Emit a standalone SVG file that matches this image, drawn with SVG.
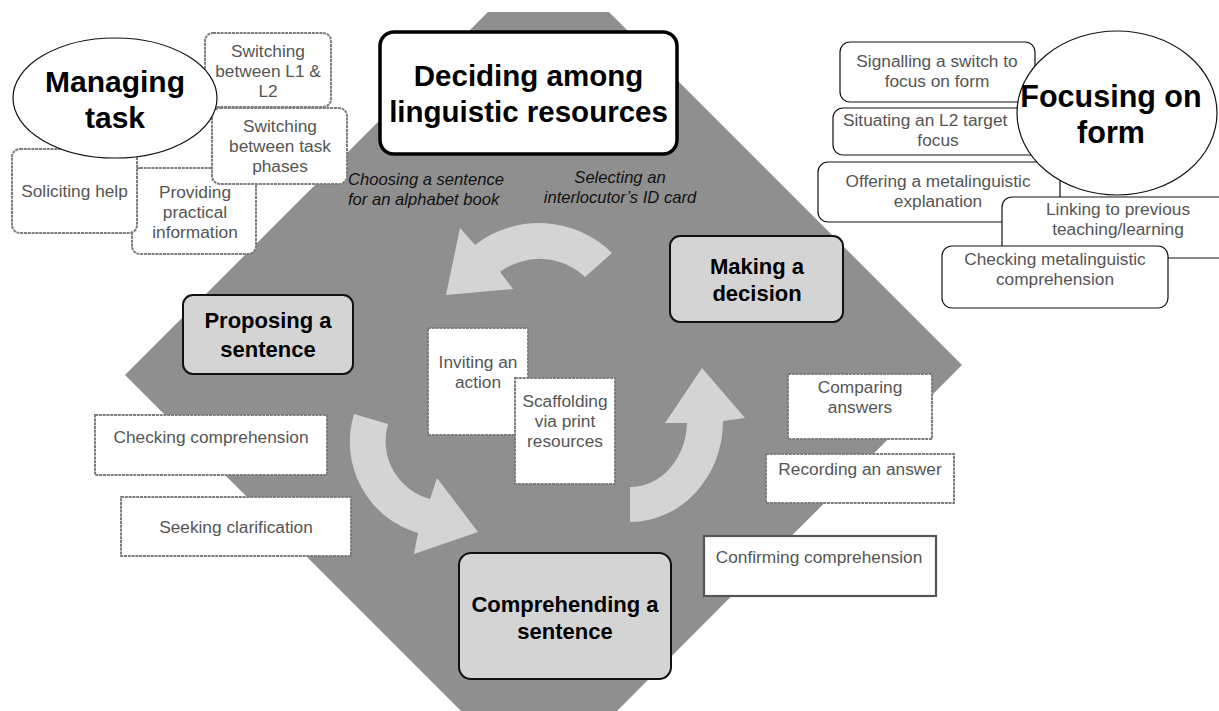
<svg xmlns="http://www.w3.org/2000/svg" width="1219" height="711" viewBox="0 0 1219 711">
<style>
.bg{fill:#ffffff}
.diamond{fill:#8f8f8f}
.arrow{fill:#d4d4d4}
.rough{fill:#ffffff;stroke:#7d7d7d;stroke-width:2;stroke-dasharray:3 0.8}
.smooth{fill:#ffffff;stroke:#111;stroke-width:1.2}
.solid{fill:#ffffff;stroke:#555;stroke-width:2.2}
.stage{fill:#d4d4d4;stroke:#111;stroke-width:2}
.main{fill:#ffffff;stroke:#000;stroke-width:3.5}
.oval{fill:#ffffff;stroke:#111;stroke-width:1.2}
.t{font-family:"Liberation Sans",Arial,sans-serif;font-size:17.3px;fill:#555;text-anchor:middle}
.b{font-family:"Liberation Sans",Arial,sans-serif;font-weight:bold;font-size:22px;fill:#000;text-anchor:middle}
.h{font-family:"Liberation Sans",Arial,sans-serif;font-weight:bold;font-size:30px;fill:#000;text-anchor:middle}
.i{font-family:"Liberation Sans",Arial,sans-serif;font-style:italic;font-size:16.6px;fill:#111}
</style>
<rect class="bg" x="0" y="0" width="1219" height="711"/>
<polygon class="diamond" points="488,12 609,12 962,365 617,711 461,711 125,375"/>

<g id="connectors">
  <path class="arrow" d="M612,253 A104,104 0 0 0 475,245 L460,228 L446,295 L513,289 L500,272 A66,66 0 0 1 585,277 Z"/>
  <path class="arrow" d="M354,414 L388,424 A60,60 0 0 0 430,499 L437,478 L478,532 L414,554 L418,533 A95,95 0 0 1 354,414 Z"/>
  <path class="arrow" d="M630,487 A57,66 0 0 0 687,423 L665,423 L702,368 L745,418 L723,421 A93,101 0 0 1 630,522 Z"/>
</g>

<!-- Managing task cluster -->
<g id="switching-l1-l2">
  <rect class="rough" x="205" y="33" width="126" height="74" rx="8"/>
  <text class="t" x="268" y="57">Switching</text>
  <text class="t" x="268" y="77">between L1 &amp;</text>
  <text class="t" x="268" y="97">L2</text>
</g>
<g id="providing-info">
  <rect class="rough" x="132" y="168" width="124" height="86" rx="8"/>
  <text class="t" x="195" y="198">Providing</text>
  <text class="t" x="195" y="218">practical</text>
  <text class="t" x="195" y="238">information</text>
</g>
<g id="soliciting-help">
  <rect class="rough" x="12" y="149" width="125" height="84" rx="8"/>
  <text class="t" x="74.5" y="197">Soliciting help</text>
</g>
<g id="switching-phases">
  <rect class="rough" x="212" y="108" width="135" height="76" rx="8"/>
  <text class="t" x="280" y="132">Switching</text>
  <text class="t" x="280" y="152">between task</text>
  <text class="t" x="280" y="172">phases</text>
</g>
<g id="managing-task">
  <ellipse class="oval" cx="115" cy="98" rx="102" ry="60"/>
  <text class="h" x="115" y="92">Managing</text>
  <text class="h" x="115" y="128">task</text>
</g>

<!-- Focusing on form cluster -->
<g id="signalling-switch">
  <rect class="smooth" x="840" y="42" width="195" height="60" rx="10"/>
  <text class="t" x="937" y="67">Signalling a switch to</text>
  <text class="t" x="937" y="87">focus on form</text>
</g>
<g id="situating-target">
  <rect class="smooth" x="833" y="108" width="207" height="47" rx="10"/>
  <text class="t" x="843" y="126" style="text-anchor:start">Situating an L2 target</text>
  <text class="t" x="938" y="146">focus</text>
</g>
<g id="offering-explanation">
  <rect class="smooth" x="818" y="162" width="242" height="60" rx="10"/>
  <text class="t" x="938" y="187">Offering a metalinguistic</text>
  <text class="t" x="938" y="207">explanation</text>
</g>
<g id="focusing-on-form">
  <ellipse class="oval" cx="1117" cy="113" rx="100" ry="82"/>
  <text class="h" x="1111" y="107" style="font-size:30.5px">Focusing on</text>
  <text class="h" x="1111" y="143" style="font-size:30.5px">form</text>
</g>
<g id="linking-previous">
  <rect class="smooth" x="1002" y="197" width="240" height="61" rx="10"/>
  <text class="t" x="1118" y="215">Linking to previous</text>
  <text class="t" x="1118" y="235">teaching/learning</text>
</g>
<g id="checking-metalinguistic">
  <rect class="smooth" x="942" y="246" width="226" height="62" rx="10"/>
  <text class="t" x="1055" y="265">Checking metalinguistic</text>
  <text class="t" x="1055" y="285">comprehension</text>
</g>

<!-- Central -->
<g id="deciding">
  <rect class="main" x="380" y="32" width="297" height="122" rx="14"/>
  <text class="h" x="528.5" y="86" style="font-size:29.5px">Deciding among</text>
  <text class="h" x="528.5" y="122" style="font-size:29.5px">linguistic resources</text>
</g>
<g id="label-alphabet">
  <text class="i" x="348" y="185">Choosing a sentence</text>
  <text class="i" x="348" y="205">for an alphabet book</text>
</g>
<g id="label-idcard">
  <text class="i" x="620" y="183" style="text-anchor:middle">Selecting an</text>
  <text class="i" x="620" y="203" style="text-anchor:middle">interlocutor’s ID card</text>
</g>
<g id="making-decision">
  <rect class="stage" x="670" y="236" width="173" height="86" rx="10"/>
  <text class="b" x="757" y="274">Making a</text>
  <text class="b" x="757" y="301">decision</text>
</g>
<g id="proposing-sentence">
  <rect class="stage" x="183" y="295" width="170" height="79" rx="10"/>
  <text class="b" x="268" y="328">Proposing a</text>
  <text class="b" x="268" y="357">sentence</text>
</g>
<g id="comprehending-sentence">
  <rect class="stage" x="459" y="553" width="212" height="126" rx="12"/>
  <text class="b" x="565" y="612">Comprehending a</text>
  <text class="b" x="565" y="639">sentence</text>
</g>
<g id="inviting-action">
  <rect class="rough" x="428" y="328" width="100" height="107"/>
  <text class="t" x="478" y="368">Inviting an</text>
  <text class="t" x="478" y="388">action</text>
</g>
<g id="scaffolding">
  <rect class="rough" x="515" y="378" width="100" height="106"/>
  <text class="t" x="565" y="407">Scaffolding</text>
  <text class="t" x="565" y="427">via print</text>
  <text class="t" x="565" y="447">resources</text>
</g>
<g id="checking-comprehension">
  <rect class="rough" x="95" y="415" width="232" height="60"/>
  <text class="t" x="211" y="443">Checking comprehension</text>
</g>
<g id="seeking-clarification">
  <rect class="rough" x="121" y="497" width="230" height="59"/>
  <text class="t" x="236" y="533">Seeking clarification</text>
</g>
<g id="comparing-answers">
  <rect class="rough" x="788" y="374" width="144" height="65"/>
  <text class="t" x="860" y="393">Comparing</text>
  <text class="t" x="860" y="413">answers</text>
</g>
<g id="recording-answer">
  <rect class="rough" x="766" y="454" width="188" height="49"/>
  <text class="t" x="860" y="475">Recording an answer</text>
</g>
<g id="confirming-comprehension">
  <rect class="solid" x="704" y="536" width="232" height="60"/>
  <text class="t" x="819" y="563">Confirming comprehension</text>
</g>
</svg>
